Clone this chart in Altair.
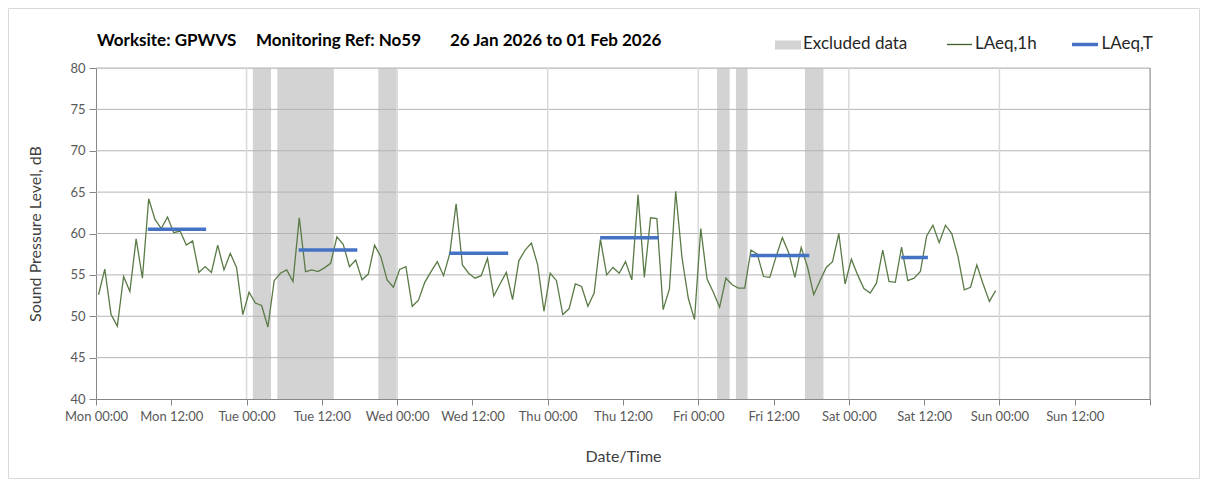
import altair as alt
import pandas as pd

# ---------------- data ----------------
DAYS = ["Mon", "Tue", "Wed", "Thu", "Fri", "Sat", "Sun"]
TICK_HOURS = list(range(0, 169, 12))
DAY_LINES = [24, 48, 72, 96, 120, 144]
Y_TICKS = [40, 45, 50, 55, 60, 65, 70, 75, 80]
Y_GRID = [45, 50, 55, 60, 65, 70, 75, 80]

# hourly LAeq,1h values, Mon 00:00 .. Sat 23:00
LAEQ_1H = [
    52.6, 55.7, 50.2, 48.8, 54.8, 53.0, 59.35, 54.6, 64.2, 61.7, 60.6, 62.0,
    60.1, 60.3, 58.6, 59.1, 55.3, 56.0, 55.3, 58.6, 55.6, 57.6, 55.9, 50.2,
    52.9, 51.6, 51.3, 48.7, 54.3, 55.2, 55.6, 54.2, 61.9, 55.4, 55.6, 55.4,
    55.85, 56.4, 59.6, 58.7, 56.0, 56.8, 54.4, 55.1, 58.6, 57.2, 54.4, 53.5,
    55.65, 56.0, 51.2, 51.95, 54.1, 55.4, 56.6, 54.9, 57.6, 63.6, 56.2, 55.2,
    54.6, 54.9, 57.0, 52.45, 53.9, 55.3, 52.0, 56.7, 58.0, 58.85, 56.2, 50.6,
    55.2, 54.3, 50.2, 50.9, 53.9, 53.6, 51.2, 52.8, 59.3, 55.0, 55.9, 55.2,
    56.6, 54.4, 64.7, 54.7, 61.9, 61.8, 50.8, 53.3, 65.1, 57.1, 52.2, 49.6,
    60.6, 54.5, 52.9, 51.1, 54.6, 53.8, 53.4, 53.4, 58.0, 57.5, 54.8, 54.7,
    57.2, 59.5, 57.7, 54.7, 58.3, 56.0, 52.6, 54.3, 55.9, 56.6, 60.0, 53.9,
    56.9, 55.0, 53.35, 52.8, 54.0, 58.0, 54.2, 54.1, 58.35, 54.3, 54.6, 55.4,
    59.7, 61.0, 58.9, 61.0, 60.0, 57.2, 53.2, 53.5, 56.2, 53.9, 51.8, 53.1,
]
HOUR_OFFSET = 0.4

# excluded periods (hours from Mon 00:00)
EXCL_START = [25.0, 28.9, 45.0, 99.0, 102.0, 113.0]
EXCL_END = [27.9, 37.9, 47.93, 101.0, 103.85, 115.95]

# LAeq,T periods
T_VALUE = [60.5, 58.0, 57.6, 59.5, 57.35, 57.1]
T_START = [8.25, 32.3, 56.3, 80.35, 104.35, 128.35]
T_END = [17.55, 41.65, 65.7, 89.7, 113.7, 132.6]

TITLE_PARTS = ["Worksite: GPWVS", "Monitoring Ref: No59", "26 Jan 2026 to 01 Feb 2026"]
LEGEND_LABELS = ["Excluded data", "LAeq,1h", "LAeq,T"]

# ---------------- tables ----------------
line_df = pd.DataFrame({"hour": [i + HOUR_OFFSET for i in range(len(LAEQ_1H))],
                        "level": LAEQ_1H})
excl_df = pd.DataFrame({"start": EXCL_START, "end": EXCL_END})
t_df = pd.DataFrame({"start": T_START, "end": T_END, "level": T_VALUE})
ygrid_df = pd.DataFrame({"y": Y_GRID})
day_df = pd.DataFrame({"h": DAY_LINES})

W, H = 1054, 331
FONT = "Lato"
XS = alt.Scale(domain=[0, 168], nice=False, zero=False)
YS = alt.Scale(domain=[40, 80], nice=False, zero=False)

days_js = "[" + ",".join("'" + d + "'" for d in DAYS) + "]"
label_expr = ("datum.value >= 168 ? '' : " + days_js +
              "[floor(datum.value/24)] + ' ' + (datum.value % 24 == 0 ? '00:00' : '12:00')")

x_axis = alt.Axis(values=TICK_HOURS, labelExpr=label_expr, grid=False,
                  title="Date/Time", titleFont=FONT, titleFontSize=16,
                  titleFontWeight="normal", titleColor="#404040", titlePadding=25,
                  labelFont=FONT, labelFontSize=13, labelColor="#595959",
                  labelPadding=5, tickSize=6, tickColor="#868686",
                  domainColor="#868686", labelFlush=False, labelOverlap=False)
y_axis = alt.Axis(values=Y_TICKS, grid=False, title="Sound Pressure Level, dB",
                  titleFont=FONT, titleFontSize=16, titleFontWeight="normal",
                  titleColor="#404040", titlePadding=26,
                  labelFont=FONT, labelFontSize=13, labelColor="#595959",
                  labelPadding=4, tickSize=7, tickColor="#868686",
                  domainColor="#868686")

bands = alt.Chart(excl_df).mark_rect(color="#d3d3d3").encode(
    x=alt.X("start:Q", scale=XS, axis=x_axis),
    x2="end:Q",
    y=alt.Y(datum=80, scale=YS, axis=y_axis),
    y2=alt.datum(40),
)

ygrid = alt.Chart(ygrid_df).mark_rule(color="#b4b4b4", strokeWidth=1).encode(
    x=alt.datum(0, scale=XS), x2=alt.datum(168),
    y=alt.Y("y:Q", scale=YS),
)

daylines = alt.Chart(day_df).mark_rule(color="#d9d9d9", strokeWidth=1.5).encode(
    x=alt.X("h:Q", scale=XS),
    y=alt.datum(40, scale=YS), y2=alt.datum(80),
)

right_edge = alt.Chart(pd.DataFrame({"h": [168]})).mark_rule(color="#8a8a8a", strokeWidth=1).encode(
    x=alt.X("h:Q", scale=XS),
    y=alt.datum(40, scale=YS), y2=alt.datum(80),
)

green = alt.Chart(line_df).mark_line(color="#5a7a46", strokeWidth=1.3).encode(
    x=alt.X("hour:Q", scale=XS),
    y=alt.Y("level:Q", scale=YS),
)

blue = alt.Chart(t_df).mark_rule(color="#4472C4", strokeWidth=3.5).encode(
    x=alt.X("start:Q", scale=XS), x2="end:Q",
    y=alt.Y("level:Q", scale=YS),
)

one = pd.DataFrame({"a": [0]})


def txt(s, x, y, size, weight="normal", color="#000000"):
    return alt.Chart(one).mark_text(text=s, align="left", baseline="middle",
                                    font=FONT, fontSize=size, fontWeight=weight,
                                    color=color).encode(x=alt.value(x), y=alt.value(y))


title_layers = [
    txt(TITLE_PARTS[0], 1, -27, 17, "bold"),
    txt(TITLE_PARTS[1], 160, -27, 17, "bold"),
    txt(TITLE_PARTS[2], 354, -27, 17, "bold"),
]

legend_layers = [
    alt.Chart(one).mark_rect(color="#d3d3d3").encode(
        x=alt.value(679), x2=alt.value(705), y=alt.value(-27.5), y2=alt.value(-18.5)),
    txt(LEGEND_LABELS[0], 707, -24, 17, color="#262626"),
    alt.Chart(one).mark_rule(color="#3f6128", strokeWidth=1.3).encode(
        x=alt.value(851), x2=alt.value(876), y=alt.value(-23.5)),
    txt(LEGEND_LABELS[1], 879, -24, 17, color="#262626"),
    alt.Chart(one).mark_rule(color="#4472C4", strokeWidth=3.5).encode(
        x=alt.value(976), x2=alt.value(1002), y=alt.value(-23.5)),
    txt(LEGEND_LABELS[2], 1005.5, -24, 17, color="#262626"),
]

frame = alt.Chart(one).mark_rect(fill="transparent", stroke="#d9d9d9", strokeWidth=1).encode(
    x=alt.value(-87.5), x2=alt.value(W + 49.5), y=alt.value(-59.5), y2=alt.value(H + 79.5))

chart = alt.layer(
    bands, ygrid, daylines, right_edge, green, blue, *title_layers, *legend_layers, frame
).properties(
    width=W, height=H,
    autosize=alt.AutoSizeParams(type="none"),
    padding={"left": 88, "top": 60, "right": 50, "bottom": 80},
).configure_view(stroke=None).configure(background="white")

chart.save("out.html", embed_options={"renderer": "svg", "actions": False})
